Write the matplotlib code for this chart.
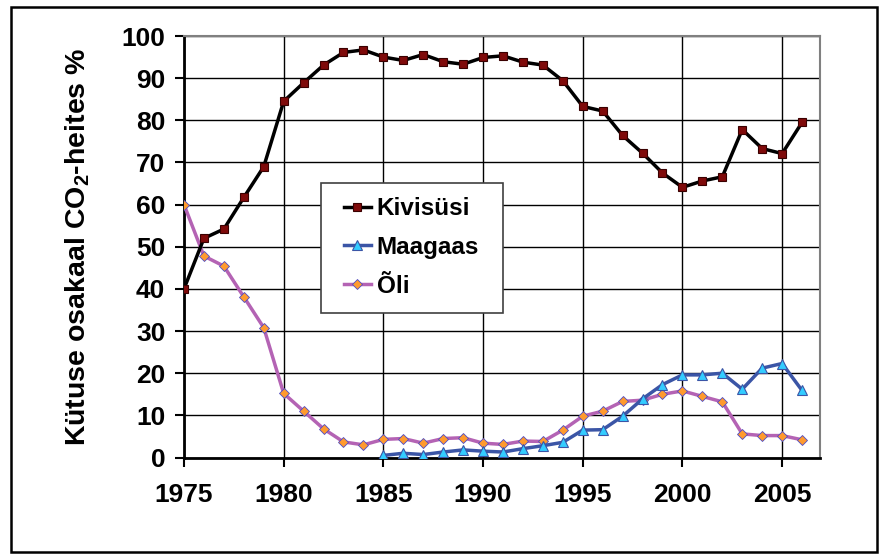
import matplotlib
matplotlib.use("Agg")
import matplotlib.pyplot as plt
from matplotlib.patches import Rectangle

plt.rcParams['font.family'] = ['Liberation Sans', 'DejaVu Sans']
plt.rcParams['font.weight'] = 'bold'
plt.rcParams['mathtext.fontset'] = 'custom'
plt.rcParams['mathtext.rm'] = 'Liberation Sans:bold'
plt.rcParams['mathtext.bf'] = 'Liberation Sans:bold'
plt.rcParams['mathtext.it'] = 'Liberation Sans:bold'
plt.rcParams['mathtext.default'] = 'rm'

years = list(range(1975, 2007))
kivisusi = [40.0, 52.0, 54.2, 61.7, 69.0, 84.5, 88.9, 93.1, 96.1, 96.7,
            95.0, 94.2, 95.6, 93.9, 93.3, 94.9, 95.3, 93.8, 93.1, 89.4,
            83.3, 82.2, 76.4, 72.2, 67.5, 64.1, 65.6, 66.6, 77.8, 73.3,
            72.1, 79.5]
gas_years = list(range(1985, 2007))
maagaas = [0.5, 1.0, 0.7, 1.3, 1.8, 1.5, 1.3, 2.1, 2.8, 3.6,
           6.5, 6.6, 9.8, 13.9, 17.3, 19.6, 19.6, 20.0, 16.2, 21.2,
           22.3, 15.9]
oli = [60.0, 47.8, 45.4, 38.1, 30.8, 15.2, 11.0, 6.8, 3.7, 3.0,
       4.3, 4.5, 3.4, 4.5, 4.7, 3.4, 3.1, 3.9, 3.8, 6.5,
       9.8, 11.0, 13.3, 13.6, 15.0, 15.8, 14.5, 13.2, 5.6, 5.2,
       5.2, 4.2]
series_names = ['Kivisüsi', 'Maagaas', 'Õli']
x_ticks = [1975, 1980, 1985, 1990, 1995, 2000, 2005]
y_ticks = list(range(0, 101, 10))

fig = plt.figure(figsize=(8.83, 5.6), dpi=100)
ax = fig.add_axes([184/883, 1 - 457.5/560, (820-184)/883, (457.5-36)/560])

ax.plot(years, kivisusi, color='black', lw=2.5, marker='s', ms=6,
        mfc='#7f0a0a', mec='#3a0000', mew=0.8, label=series_names[0], zorder=3.3)
ax.plot(gas_years, maagaas, color='#3b55a6', lw=2.5, marker='^', ms=7,
        mfc='#33ccff', mec='#3b55a6', mew=0.8, label=series_names[1], zorder=3.2)
ax.plot(years, oli, color='#b463b4', lw=2.5, marker='D', ms=5,
        mfc='#ff9a2e', mec='#4b4bc8', mew=0.6, label=series_names[2], zorder=3.1)

ax.set_xlim(1975, 2006.9)
ax.set_ylim(0, 100)
ax.set_xticks(x_ticks)
ax.set_yticks(y_ticks)
ax.grid(True, color='black', lw=1.0)
ax.set_axisbelow(True)
for s in ['top', 'right']:
    ax.spines[s].set_color('#808080')
    ax.spines[s].set_linewidth(1.5)
for s in ['left', 'bottom']:
    ax.spines[s].set_color('black')
    ax.spines[s].set_linewidth(2)
ax.tick_params(axis='both', direction='out', length=6.5, width=1.5,
               labelsize=19, colors='black')
ax.tick_params(axis='y', pad=7)
ax.tick_params(axis='x', pad=12)
for lab in ax.get_xticklabels() + ax.get_yticklabels():
    lab.set_fontweight('bold')

ax.set_ylabel('Kütuse osakaal CO$_2$-heites %', fontsize=20.5, fontweight='bold',
              labelpad=21)

# legend frame drawn separately
ax.add_patch(Rectangle((0.2154, 0.3428), 0.2862, 0.3084, transform=ax.transAxes,
                       facecolor='white', edgecolor='#404040', lw=1.2,
                       zorder=4, clip_on=False))
leg = ax.legend(loc='upper left', bbox_to_anchor=(0.2516, 0.618),
                frameon=False, prop={'size': 17.5, 'weight': 'bold'},
                handlelength=1.1, handletextpad=0.25, labelspacing=0.65,
                borderpad=0, borderaxespad=0)
leg.set_zorder(5)

fig.patches.append(Rectangle((11/883, 1 - 552/560), (877-11)/883, (552-7)/560,
                             transform=fig.transFigure, fill=False,
                             edgecolor='black', lw=1.8))

fig.savefig('out.png', dpi=100)
